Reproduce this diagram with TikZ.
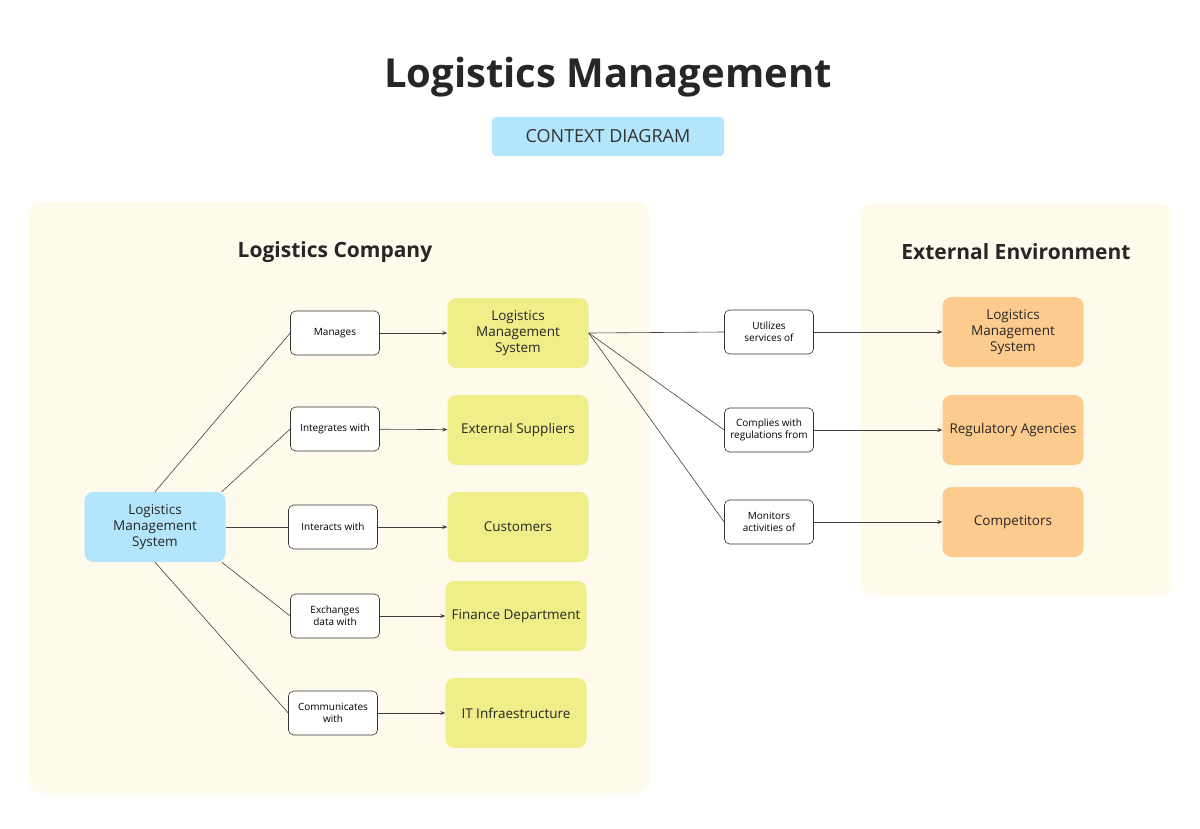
\documentclass[tikz,border=0pt]{standalone}
\usepackage{fontspec}
\setmainfont{Open Sans}
\usetikzlibrary{arrows.meta}
\begin{document}
\begin{tikzpicture}[x=1pt,y=-1pt,
  panel/.style={fill=panelc,rounded corners=14pt,draw=none},
  big/.style={rounded corners=9pt,minimum width=141pt,minimum height=70pt,align=center,font=\fontsize{13.5}{16}\selectfont,text=black!85},
  blu/.style={big,fill=bluec},
  yel/.style={big,fill=yelc},
  ora/.style={big,fill=orac},
  lab/.style={draw=black!80,fill=white,rounded corners=5pt,minimum width=89pt,minimum height=44pt,align=center,font=\fontsize{10}{12}\selectfont,line width=0.6pt},
  ln/.style={draw=black!75,line width=0.6pt},
  ar/.style={ln,-{Stealth[length=5pt,width=4pt]}}]
\definecolor{panelc}{HTML}{FEFAEC}
\definecolor{bluec}{HTML}{B3E5FC}
\definecolor{yelc}{HTML}{EFEE88}
\definecolor{orac}{HTML}{FDCB8E}
\useasboundingbox[fill=white] (0,0) rectangle (1200,829);
\node (title) at (608,77) {\fontsize{40}{46}\selectfont\bfseries\color{black!85}Logistics Management};
\node[fill=bluec,rounded corners=4pt,minimum width=232pt,minimum height=39pt,font=\fontsize{18}{20}\selectfont,text=black!80] (badge) at (608,136.5) {CONTEXT DIAGRAM};
\path[panel] (28,202) rectangle (649,793);
\path[panel] (860,203) rectangle (1172,596);
\node (h1) at (335,252) {\fontsize{21}{24}\selectfont\bfseries\color{black!85}Logistics Company};
\node (h2) at (1016,252) {\fontsize{21}{24}\selectfont\bfseries\color{black!85}External Environment};
\node[blu] (b) at (155,527) {Logistics\\Management\\System};
\node[lab] (l1) at (335,333) {Manages};
\node[lab] (l2) at (335,429) {Integrates with};
\node[lab] (l3) at (333,527) {Interacts with};
\node[lab] (l4) at (335,616) {Exchanges\\data with};
\node[lab] (l5) at (333,713) {Communicates\\with};
\node[yel] (y1) at (518,333) {Logistics\\Management\\System};
\node[yel] (y2) at (518,430) {External Suppliers};
\node[yel] (y3) at (518,527) {Customers};
\node[yel] (y4) at (516,616) {Finance Department};
\node[yel] (y5) at (516,713) {IT Infraestructure};
\node[lab] (r1) at (769,332) {Utilizes\\services of};
\node[lab] (r2) at (769,430) {Complies with\\regulations from};
\node[lab] (r3) at (769,522) {Monitors\\activities of};
\node[ora] (o1) at (1013,332) {Logistics\\Management\\System};
\node[ora] (o2) at (1013,430) {Regulatory Agencies};
\node[ora] (o3) at (1013,522) {Competitors};
\draw[ln] (b.north) -- (l1.west);
\draw[ln] ([xshift=-4pt]b.north east) -- (l2.west);
\draw[ln] (b.east) -- (l3.west);
\draw[ln] ([xshift=-4pt]b.south east) -- (l4.west);
\draw[ln] (b.south) -- (l5.west);
\draw[ar] (l1) -- (y1);
\draw[ar] (l2) -- (y2);
\draw[ar] (l3) -- (y3);
\draw[ar] (l4) -- (y4);
\draw[ar] (l5) -- (y5);
\draw[ln] (y1.east) -- (r1.west);
\draw[ln] (y1.east) -- (r2.west);
\draw[ln] (y1.east) -- (r3.west);
\draw[ar] (r1) -- (o1);
\draw[ar] (r2) -- (o2);
\draw[ar] (r3) -- (o3);
\end{tikzpicture}
\end{document}
